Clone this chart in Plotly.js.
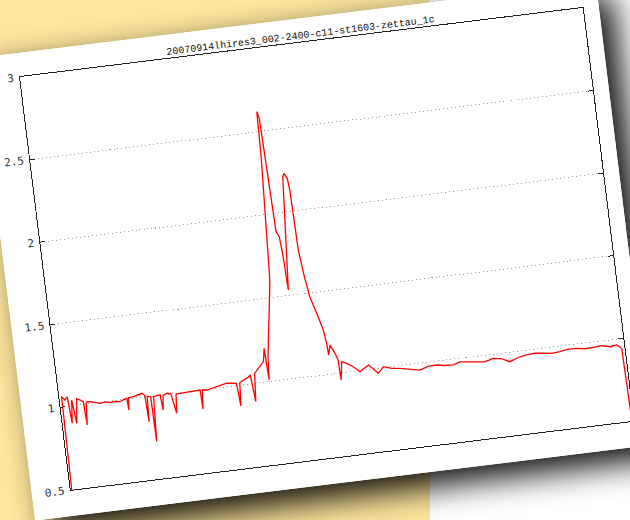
<!DOCTYPE html>
<html>
<head>
<meta charset="utf-8">
<script src="https://cdn.plot.ly/plotly-3.0.1.min.js"></script>
<style>
  html, body { margin:0; padding:0; width:630px; height:520px; overflow:hidden;
    background: linear-gradient(to right, #FDE69D 0px, #FDE69D 430px, #FFFFFF 430px, #FFFFFF 630px); }
  #paper { position:absolute; left:-19px; top:53px; width:622px; height:466px; background:#fff;
    transform-origin: 39px 24px; transform: rotate(-7deg);
    box-shadow: 14px 14px 32px rgba(0,0,0,0.95); }
  #chart { width:622px; height:466px; }
</style>
</head>
<body>
<div id="paper"><div id="chart"></div></div>
<script>
const chartTitle = "20070914lhires3_002-2400-c11-st1603-zettau_1c";
const yTickVals = [0.5, 1, 1.5, 2, 2.5, 3];
const yTickText = ["0.5", "1", "1.5", "2", "2.5", "3"];

const xs = [0,4,9,14,17,21,25,30,36,41,43,46,53,60,70,80,88,96,105,112,118,119,121,130,138,145,150,152,154,160,161,165,172,177,179,182,189,196,202,205,212,220,230,240,248,249,252,260,270,278,288,296,305,313,316,319,326,334,339,343,347,355,360,365,369,371,374,385,393,394,399,405,406.5,407,410,411,411.5,413,415,419.5,422,424,432.5,434.4,438.5,441.5,446,448,449,450,454,460,468.6,476.5,479.5,480.5,485,492,496,497,502,510,521,532,540,548,556,563.5,574,588,603,620,637,652,667.6,682,697,709,721,738,752,768,782,796.5,812,827,842,856.6,871,886,901,916,931,945.5,960,975,987,995,1000];
const ys = [0,1.063,1.040,1.058,0.897,1.035,0.893,1.040,1.029,1.015,0.875,1.012,1.012,1.005,0.995,1.000,0.992,0.995,0.990,1.000,1.005,0.934,1.008,1.010,1.015,1.024,1.010,0.849,1.000,0.998,0.725,0.995,1.000,1.001,0.909,0.995,1.006,1.000,0.879,0.995,0.996,0.998,0.998,1.000,1.001,0.885,1.000,0.996,1.004,1.008,1.015,1.022,1.018,1.014,0.876,1.015,1.029,1.040,1.054,0.891,1.060,1.088,1.100,1.124,1.203,1.011,1.150,1.388,1.586,1.626,1.948,2.347,2.549,2.620,2.578,2.447,2.225,2.042,1.890,1.858,1.735,1.533,1.933,2.073,2.213,2.232,2.200,2.128,1.966,1.764,1.622,1.477,1.373,1.269,1.187,1.116,1.174,1.121,1.079,0.958,1.066,1.053,1.028,0.993,1.010,1.027,1.000,0.970,1.006,0.990,0.984,0.972,0.959,0.975,0.977,0.968,0.965,0.978,0.974,0.967,0.960,0.975,0.968,0.943,0.962,0.971,0.975,0.969,0.962,0.966,0.976,0.974,0.965,0.968,0.972,0.959,0.965,0.941,0];

const mono = "Liberation Mono, DejaVu Sans Mono, monospace";

Plotly.newPlot('chart', [{
  x: xs, y: ys, type: 'scatter', mode: 'lines',
  line: { color: '#ff0000', width: 1.3 },
  hoverinfo: 'skip', showlegend: false
}], {
  width: 622, height: 466,
  margin: { l: 39, r: 16, t: 24, b: 26, pad: 0 },
  paper_bgcolor: '#ffffff', plot_bgcolor: '#ffffff',
  title: { text: chartTitle, font: { family: mono, size: 10, color: '#111' },
           x: 0.5, xanchor: 'center', xref: 'paper', y: 1, yref: 'paper', yanchor: 'bottom', pad: { b: 4 } },
  xaxis: { range: [0, 1000], showline: true, linecolor: '#222', linewidth: 1, mirror: true,
           showgrid: false, zeroline: false, ticks: '', showticklabels: false },
  yaxis: { range: [0.5, 3], tickvals: yTickVals, ticktext: yTickText,
           showline: true, linecolor: '#222', linewidth: 1, mirror: 'ticks',
           ticks: 'inside', ticklen: 5, tickcolor: '#222', tickwidth: 1,
           showgrid: true, gridcolor: '#9a9a9a', griddash: '1px,3px', gridwidth: 1, zeroline: false,
           tickfont: { family: "DejaVu Sans Mono, monospace", size: 11, color: '#333' }, ticklabelstandoff: 3 }
}, { staticPlot: true, displayModeBar: false });
</script>
</body>
</html>
